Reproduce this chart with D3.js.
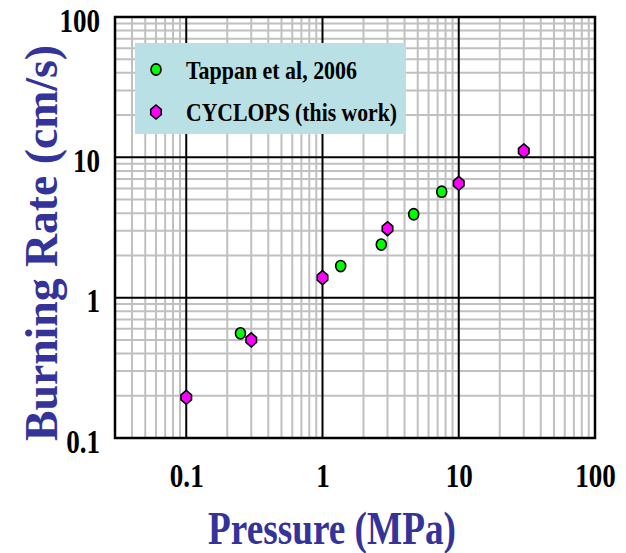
<!DOCTYPE html>
<html><head><meta charset="utf-8">
<script src="https://cdn.jsdelivr.net/npm/d3@7/dist/d3.min.js"></script>
<style>
html,body{margin:0;padding:0;background:#fff;}
svg{display:block;}
text{font-family:"Liberation Serif","Times New Roman",serif;font-weight:bold;}
</style></head>
<body>
<svg id="chart" width="626" height="553"></svg>
<script>
// ---- data ----
const tappanPressure = [0.25, 1.36, 2.7, 4.67, 7.5];
const tappanRate     = [0.557, 1.68, 2.39, 3.93, 5.69];
const cyclopsPressure = [0.1, 0.3, 1.0, 3.0, 10, 30];
const cyclopsRate     = [0.195, 0.5, 1.39, 3.1, 6.53, 11.1];
const xTickValues = [0.1, 1, 10, 100];
const xTickLabels = ["0.1", "1", "10", "100"];
const yTickValues = [0.1, 1, 10, 100];
const yTickLabels = ["0.1", "1", "10", "100"];
const seriesNames = ["Tappan et al, 2006", "CYCLOPS (this work)"];
const xTitle = "Pressure (MPa)";
const yTitle = "Burning Rate (cm/s)";

// ---- layout ----
const L = 115, R = 595, T = 17, B = 438;
const svg = d3.select("#chart");
const x = d3.scaleLog().domain([0.03, 100]).range([L, R]);
const y = d3.scaleLog().domain([0.1, 100]).range([B, T]);

// grid
const gx = x.ticks().filter(v => v > 0.03 * 1.0001 && v < 100 / 1.0001);
const gy = y.ticks().filter(v => v > 0.1 * 1.0001 && v < 100 / 1.0001);
const isMajor = v => Math.abs(Math.log10(v) - Math.round(Math.log10(v))) < 1e-6;
const grid = svg.append("g");
grid.selectAll("line.gx").data(gx.filter(v => !isMajor(v))).join("line")
  .attr("x1", d => x(d)).attr("x2", d => x(d)).attr("y1", T).attr("y2", B)
  .attr("stroke", "#c0c0c0").attr("stroke-width", 2);
grid.selectAll("line.gy").data(gy.filter(v => !isMajor(v))).join("line")
  .attr("y1", d => y(d)).attr("y2", d => y(d)).attr("x1", L).attr("x2", R)
  .attr("stroke", "#c0c0c0").attr("stroke-width", 2);
grid.selectAll("line.mx").data(gx.filter(isMajor)).join("line")
  .attr("x1", d => x(d)).attr("x2", d => x(d)).attr("y1", T).attr("y2", B)
  .attr("stroke", "#000").attr("stroke-width", 2);
grid.selectAll("line.my").data(gy.filter(isMajor)).join("line")
  .attr("y1", d => y(d)).attr("y2", d => y(d)).attr("x1", L).attr("x2", R)
  .attr("stroke", "#000").attr("stroke-width", 2);
svg.append("rect").attr("x", L).attr("y", T).attr("width", R - L).attr("height", B - T)
  .attr("fill", "none").attr("stroke", "#000").attr("stroke-width", 2.5);

// axes
const squeeze = sel => sel.each(function(){
  const w = this.getComputedTextLength();
  d3.select(this).attr("textLength", w * 0.82).attr("lengthAdjust", "spacingAndGlyphs");
});
const xAxis = svg.append("g").attr("transform", `translate(0,${B})`)
  .call(d3.axisBottom(x).tickValues(xTickValues).tickSize(0)
        .tickFormat((d, i) => xTickLabels[i]));
xAxis.select(".domain").remove();
xAxis.selectAll("text").attr("y", 49).attr("dy", 0)
  .attr("font-size", 33).attr("fill", "#000")
  .style("font-family", '"Liberation Serif","Times New Roman",serif').style("font-weight", "bold")
  .call(squeeze);

const yAxis = svg.append("g").attr("transform", `translate(${L},0)`)
  .call(d3.axisLeft(y).tickValues(yTickValues).tickSize(0)
        .tickFormat((d, i) => yTickLabels[i]));
yAxis.select(".domain").remove();
yAxis.selectAll("text").attr("x", -15).attr("y", 14).attr("dy", 0)
  .attr("font-size", 33).attr("fill", "#000")
  .style("font-family", '"Liberation Serif","Times New Roman",serif').style("font-weight", "bold")
  .call(squeeze);

// markers
const hexPath = (w, h) => {
  const a = w / 2, b = h / 2, c = h * 0.18;
  return `M0,${-b}L${a},${-c}L${a},${c}L0,${b}L${-a},${c}L${-a},${-c}Z`;
};
const tData = tappanPressure.map((p, i) => [p, tappanRate[i]]);
const cData = cyclopsPressure.map((p, i) => [p, cyclopsRate[i]]);
svg.append("g").selectAll("ellipse").data(tData).join("ellipse")
  .attr("cx", d => x(d[0])).attr("cy", d => y(d[1])).attr("rx", 5).attr("ry", 5.6)
  .attr("fill", "#00ff00").attr("stroke", "#000").attr("stroke-width", 1.6);
svg.append("g").selectAll("path").data(cData).join("path")
  .attr("transform", d => `translate(${x(d[0])},${y(d[1])})`)
  .attr("d", hexPath(10.5, 14))
  .attr("fill", "#ff00ff").attr("stroke", "#000").attr("stroke-width", 1.6);

// legend
const lg = svg.append("g");
lg.append("rect").attr("x", 135).attr("y", 43).attr("width", 271).attr("height", 91).attr("fill", "#b9e0e4");
lg.append("ellipse").attr("cx", 156).attr("cy", 69.5).attr("rx", 5).attr("ry", 5.6)
  .attr("fill", "#00ff00").attr("stroke", "#000").attr("stroke-width", 1.6);
lg.append("path").attr("transform", "translate(156,112)").attr("d", hexPath(10.5, 14))
  .attr("fill", "#ff00ff").attr("stroke", "#000").attr("stroke-width", 1.6);
lg.append("text").attr("x", 186).attr("y", 78.5).attr("font-size", 26).attr("fill", "#000")
  .attr("textLength", 171).attr("lengthAdjust", "spacingAndGlyphs").text(seriesNames[0]);
lg.append("text").attr("x", 186).attr("y", 121).attr("font-size", 26).attr("fill", "#000")
  .attr("textLength", 211).attr("lengthAdjust", "spacingAndGlyphs").text(seriesNames[1]);

// titles
svg.append("text").attr("x", 208).attr("y", 544).attr("font-size", 46).attr("fill", "#333399")
  .attr("textLength", 248).attr("lengthAdjust", "spacingAndGlyphs").text(xTitle);
svg.append("text").attr("transform", "translate(57,441) rotate(-90)")
  .attr("font-size", 47).attr("fill", "#333399")
  .attr("textLength", 396).attr("lengthAdjust", "spacingAndGlyphs").text(yTitle);
</script>
</body></html>
